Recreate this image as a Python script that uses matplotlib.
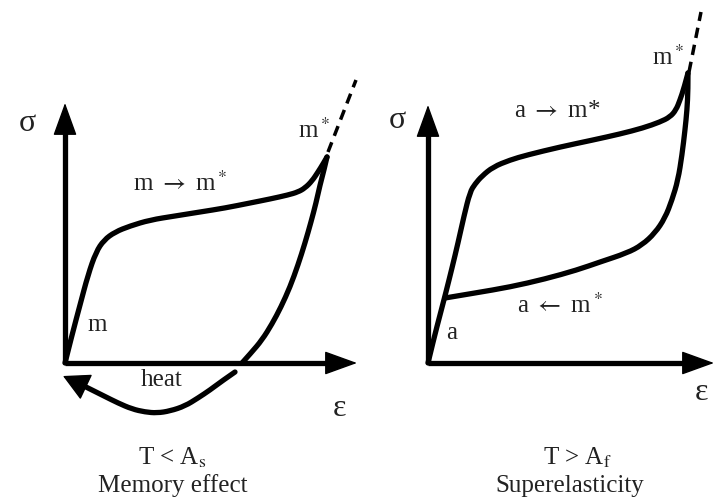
import matplotlib.pyplot as plt
from matplotlib.path import Path
from matplotlib.patches import PathPatch

plt.rcParams['font.family'] = ['Liberation Serif', 'DejaVu Serif']
plt.rcParams['mathtext.fontset'] = 'stix'

# points (pixel units, y down)
# left panel: T < As, memory effect
mem_load_x = [65, 72, 80, 88, 96, 104, 115, 130, 150, 175, 200, 225, 250, 270, 288, 298, 305, 312, 318, 323, 327]
mem_load_y = [363, 335, 305, 275, 252, 240, 232, 226, 220, 216, 212, 208, 203, 199, 195, 192, 188, 181, 172, 164, 157]
mem_unload_x = [327, 324, 320, 316, 311, 305, 298, 290, 281, 272, 262, 251, 242]
mem_unload_y = [157, 170, 185, 203, 222, 243, 265, 287, 307, 324, 340, 353, 363]
heat_x = [235, 222, 210, 198, 185, 170, 157, 145, 132, 118, 104, 92, 82]
heat_y = [372, 381, 390, 398, 406, 411, 413, 412, 409, 403, 396, 390, 385]
mem_dash_x = [328, 356]
mem_dash_y = [152, 80]

# right panel: T > Af, superelasticity
sup_load_x = [428, 434, 440, 446, 452, 458, 464, 470, 475, 482, 493, 510, 527, 560, 593, 620, 643, 660, 670, 676, 680, 684, 688]
sup_load_y = [363, 338, 315, 292, 268, 243, 216, 192, 184, 176, 167, 160, 155, 147, 140, 134, 128, 122, 117, 110, 100, 88, 73]
sup_unload_x = [688, 688, 687, 685, 682, 678, 672, 665, 655, 642, 627, 600, 577, 545, 510, 475, 445]
sup_unload_y = [73, 90, 110, 130, 155, 180, 200, 218, 233, 245, 253, 262, 270, 279, 287, 293, 298]
sup_dash_x = [689, 701]
sup_dash_y = [72, 12]

fig = plt.figure(figsize=(7.17, 5.01), dpi=100)
ax = fig.add_axes([0, 0, 1, 1])
ax.set_xlim(0, 717)
ax.set_ylim(501, 0)
ax.axis('off')

lw = 3.8


def smooth(xs, ys):
    # quadratic bezier through midpoints, read points act as controls
    verts = [(xs[0], ys[0])]
    codes = [Path.MOVETO]
    n = len(xs)
    for i in range(1, n - 1):
        if i < n - 2:
            end = ((xs[i] + xs[i + 1]) / 2, (ys[i] + ys[i + 1]) / 2)
        else:
            end = (xs[-1], ys[-1])
        verts += [(xs[i], ys[i]), end]
        codes += [Path.CURVE3, Path.CURVE3]
    ax.add_patch(PathPatch(Path(verts, codes), fill=False, lw=lw, color='black',
                           capstyle='round', joinstyle='round'))


def arrow_head(tip, frm, hl, hw):
    ax.annotate('', xy=tip, xytext=frm,
                arrowprops=dict(arrowstyle=f'-|>,head_length={hl},head_width={hw}',
                                mutation_scale=20, lw=1, color='black',
                                shrinkA=0, shrinkB=0))


# axes with arrows
for x0, y0, xt, yt in [(65, 363, 65, 103), (65, 363, 357, 363),
                       (428, 363, 428, 105), (428, 363, 714, 363)]:
    dx, dy = xt - x0, yt - y0
    d = (dx ** 2 + dy ** 2) ** 0.5
    bx, by = xt - dx / d * 28, yt - dy / d * 28
    ax.plot([x0, bx], [y0, by], color='black', lw=lw, solid_capstyle='butt')
    arrow_head((xt, yt), (bx, by), 1.05, 0.38)

smooth(mem_load_x, mem_load_y)
smooth(mem_unload_x, mem_unload_y)
smooth(heat_x, heat_y)
arrow_head((63, 376), (heat_x[-1], heat_y[-1]), 0.85, 0.45)
ax.plot(mem_dash_x, mem_dash_y, color='black', lw=2.5, ls=(0, (3, 2)))

smooth(sup_load_x, sup_load_y)
smooth(sup_unload_x, sup_unload_y)
ax.plot(sup_dash_x, sup_dash_y, color='black', lw=2.5, ls=(0, (3, 2)))

fs = 18
txt = dict(ha='center', va='center', fontsize=fs, color='#222222')
ax.text(27, 123, 'σ', **{**txt, 'fontsize': 23})
ax.text(340, 408, 'ε', **{**txt, 'fontsize': 23})
ax.text(314, 130, r'm$^*$', **txt)
ax.text(180, 183, r'm $\rightarrow$ m$^*$', **txt)
ax.text(97, 325, 'm', **txt)
ax.text(162, 380, 'heat', **txt)

ax.text(397, 120, 'σ', **{**txt, 'fontsize': 23})
ax.text(701, 393, 'ε', **{**txt, 'fontsize': 23})
ax.text(668, 57, r'm$^*$', **txt)
ax.text(557, 111, r'a $\rightarrow$ m*', **txt)
ax.text(560, 305, r'a $\leftarrow$ m$^*$', **txt)
ax.text(452, 333, 'a', **txt)

ax.text(172, 458, r'T < A$_\mathrm{s}$', **txt)
ax.text(173, 486, 'Memory effect', **txt)
ax.text(577, 458, r'T > A$_\mathrm{f}$', **txt)
ax.text(570, 486, 'Superelasticity', **txt)

fig.savefig('out.png', dpi=100)
